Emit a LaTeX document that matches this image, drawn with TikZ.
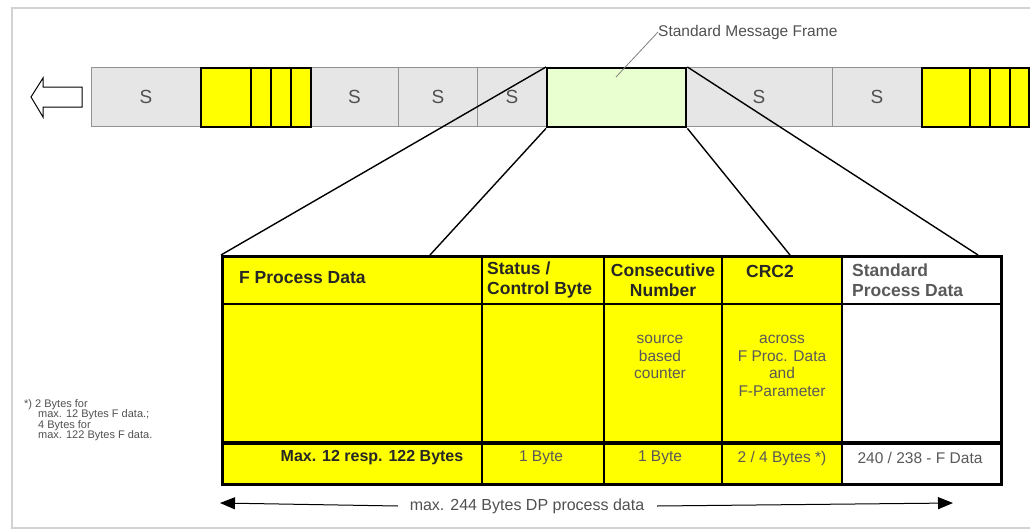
\documentclass[tikz,border=0pt]{standalone}
\usepackage{fontspec}
\setmainfont{Liberation Sans}
\usepackage{xcolor}
\usetikzlibrary{arrows.meta}
\definecolor{sgray}{HTML}{E6E6E6}
\definecolor{fgreen}{HTML}{E9FFCF}
\definecolor{fyellow}{HTML}{FFFF00}
\definecolor{ink}{HTML}{505050}

\begin{document}
\begin{tikzpicture}[
  x=1pt, y=-1pt,
  sbox/.style={rectangle, draw=gray!85, line width=0.9pt, fill=sgray, minimum height=59pt, anchor=north west, inner sep=0pt, font=\fontsize{19}{20}\selectfont, text=ink},
  fblock/.style={rectangle, draw=black, line width=2.4pt, fill=fyellow, minimum height=59pt, anchor=north west, inner sep=0pt},
  head/.style={inner sep=0pt, font=\bfseries\fontsize{17.5}{20}\selectfont, text=black!85},
  cell/.style={inner sep=0pt, font=\fontsize{15.5}{17.5}\selectfont, text=black!65, align=center},
  funnel/.style={line width=1.4pt}
]
  \useasboundingbox (0,0) rectangle (1030,530);
  % outer frame
  \draw[gray!35, line width=1.5pt] (1040,8) -- (12,8) -- (12,528) -- (1040,528);

  % direction arrow
  \draw[line width=1pt, fill=white] (31,97) -- (43,78) -- (43,87) -- (82,87) -- (82,107) -- (43,107) -- (43,117) -- cycle;

  % message frame on the bus
  \node[sbox, minimum width=109pt] (s1) at (91,67) {S};
  \node[sbox, minimum width=88pt] (s2) at (310,67) {S};
  \node[sbox, minimum width=79pt] (s3) at (398,67) {S};
  \node[sbox, minimum width=69pt] (s4) at (477,67) {S};
  \node[sbox, minimum width=147pt] (s5) at (685,67) {S};
  \node[sbox, minimum width=89pt] (s6) at (832,67) {S};
  \node[fblock, minimum width=110pt] (f1) at (200,67) {};
  \foreach \x in {251,271,291} \draw[line width=1.2pt] (\x,67) -- (\x,126);
  \node[fblock, minimum width=107pt] (f2) at (921,67) {};
  \foreach \x in {970,990,1010} \draw[line width=1.2pt] (\x,67) -- (\x,126);
  \node[fblock, fill=fgreen, minimum width=139pt] (smf) at (546,67) {};

  \node[inner sep=0pt, anchor=west, font=\fontsize{15.5}{17}\selectfont, text=ink] (smflabel) at (658,32) {Standard Message Frame};
  \coordinate (smfpt) at (616,77);
  \draw[gray, line width=0.8pt] (smfpt) -- (smflabel.west);

  % PROFIsafe telegram
  \fill[fyellow] (221,255) rectangle (842,483);
  \fill[white] (842,255) rectangle (1000,483);
  \foreach \x in {482,604,722} \draw[line width=1.2pt] (\x,255) -- (\x,483);
  \draw[line width=2.6pt] (842,255) -- (842,483);
  \draw[line width=2.6pt] (221,304) -- (1000,304);
  \draw[line width=3.6pt] (221,443) -- (1000,443);
  \node[rectangle, draw, line width=2.8pt, minimum width=779pt, minimum height=228pt, anchor=north west, inner sep=0pt] (tbl) at (221,255) {};

  \coordinate (t1) at (430,255);
  \coordinate (t2) at (790,255);
  \coordinate (t3) at (978,255);
  \draw[funnel] (smf.north west) -- (tbl.north west);
  \draw[funnel] (smf.south west) -- (t1);
  \draw[funnel] (smf.south east) -- (t2);
  \draw[funnel] (smf.north east) -- (t3);

  \node[head, anchor=west] (hfpd) at (239,278) {F Process Data};
  \node[head, anchor=west, align=left] (hstat) at (487,280) {Status /\\Control Byte};
  \node[head, align=center] (hcons) at (663,280) {Consecutive\\Number};
  \node[head] (hcrc) at (770,271) {CRC2};
  \node[head, anchor=west, align=left, text=black!65] (hstd) at (852,280) {Standard\\Process Data};

  \node[cell] (mcons) at (660,357) {source\\based\\counter};
  \node[cell] (mcrc) at (782,366) {across\\F Proc. Data\\and\\F-Parameter};

  \node[cell, font=\bfseries\fontsize{16}{17}\selectfont, text=black!85] (bfpd) at (372,458) {Max. 12 resp. 122 Bytes};
  \node[cell] (bstat) at (541,458) {1 Byte};
  \node[cell] (bcons) at (660,458) {1 Byte};
  \node[cell] (bcrc) at (782,458) {2 / 4 Bytes *)};
  \node[cell] (bstd) at (920,458) {240 / 238 - F Data};

  % length of the DP telegram
  \node[inner sep=0pt, font=\fontsize{16}{17}\selectfont, text=ink] (span) at (527,506) {max. 244 Bytes DP process data};
  \coordinate (spanL) at (220,503);
  \coordinate (spanR) at (953,503);
  \draw[line width=1pt, -{Triangle[length=15pt, width=12pt]}] (span.west -| 398,503) -- (spanL);
  \draw[line width=1pt, -{Triangle[length=15pt, width=12pt]}] (span.east -| 657,503) -- (spanR);

  \node[inner sep=0pt, anchor=north west, align=left, font=\fontsize{11}{10.5}\selectfont, text=ink] (note) at (24,399)
    {*) 2 Bytes for\\\hspace*{14pt}max. 12 Bytes F data.;\\\hspace*{14pt}4 Bytes for\\\hspace*{14pt}max. 122 Bytes F data.};
\end{tikzpicture}
\end{document}
